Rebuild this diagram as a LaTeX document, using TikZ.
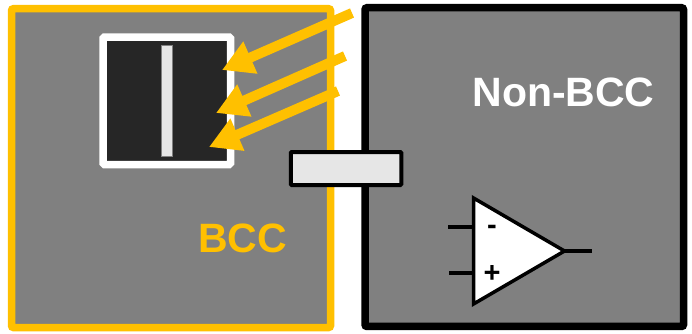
\documentclass[tikz,border=0pt]{standalone}
\usepackage{fontspec}
\setmainfont{Liberation Sans}
\usetikzlibrary{arrows.meta}

\tikzset{
    panel/.style={draw, fill=panelgray, line width=7.5pt, rounded corners=2pt, inner sep=0pt},
    ray/.style={draw=rayyellow, line width=10pt, -{Triangle[length=31pt,width=33pt]}},
    wire/.style={draw=black, line width=3.5pt},
    biglabel/.style={font=\fontsize{41}{44}\selectfont\bfseries, inner sep=0pt},
    signlabel/.style={font=\fontsize{29}{30}\selectfont\bfseries, inner sep=0pt}
}
\definecolor{panelgray}{HTML}{808080}
\definecolor{rayyellow}{HTML}{FFC000}
\definecolor{chipdark}{HTML}{262626}
\definecolor{barlight}{HTML}{E6E6E6}

\begin{document}
\begin{tikzpicture}[x=1pt,y=-1pt]
    \useasboundingbox (0,0) rectangle (692,333);
    \fill[white] (0,0) rectangle (692,333);

    % the two regions
    \node[panel, draw=rayyellow, minimum width=319pt, minimum height=318.8pt] (bcc) at (171,168.1) {};
    \node[panel, draw=black, minimum width=318.5pt, minimum height=318.75pt] (nonbcc) at (524.25,167.1) {};

    % sensor
    \node[draw=white, fill=chipdark, line width=7.5pt, rounded corners=1.5pt, minimum width=127.5pt, minimum height=127.5pt, inner sep=0pt] (chip) at (166.75,100.75) {};
    \node[draw=panelgray, fill=barlight, line width=1pt, minimum width=11pt, minimum height=111pt, inner sep=0pt] (bar) at (167,101) {};

    % bridge between regions
    \node[draw=black, fill=barlight, line width=4pt, rounded corners=1pt, minimum width=110.5pt, minimum height=33pt, inner sep=0pt] (bridge) at (346,168.5) {};

    % incoming light
    \coordinate (rayastart) at (352,13);
    \coordinate (rayaend) at (222,70);
    \coordinate (raybstart) at (345,56);
    \coordinate (raybend) at (216,113);
    \coordinate (raycstart) at (338,91);
    \coordinate (raycend) at (209,147);
    \draw[ray] (rayastart) -- (rayaend);
    \draw[ray] (raybstart) -- (raybend);
    \draw[ray] (raycstart) -- (raycend);

    % amplifier
    \coordinate (amptop) at (473.5,198);
    \coordinate (ampbot) at (473.5,304);
    \coordinate (ampout) at (564.5,251);
    \coordinate (ampminus) at (473,227);
    \coordinate (ampplus) at (473,273);
    \coordinate (inminus) at (448,227);
    \coordinate (inplus) at (449,273);
    \coordinate (outend) at (592,251);
    \draw[wire, fill=white, line join=miter] (amptop) -- (ampout) -- (ampbot) -- cycle;
    \draw[wire] (inminus) -- (ampminus);
    \draw[wire] (inplus) -- (ampplus);
    \draw[wire] (ampout) -- (outend);
    \node[signlabel] (minuslabel) at (492,230) {-};
    \node[signlabel] (pluslabel) at (492,273.5) {+};

    \node[biglabel, text=rayyellow] (bcclabel) at (242.5,238) {BCC};
    \node[biglabel, text=white] (nonbcclabel) at (563.5,92) {Non-BCC};
\end{tikzpicture}
\end{document}
